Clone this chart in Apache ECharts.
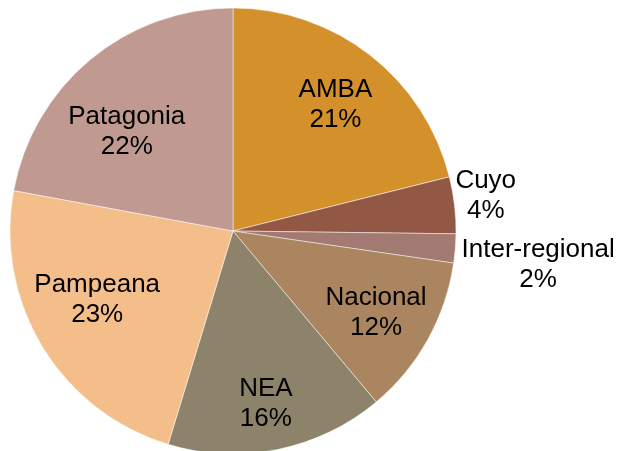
<!DOCTYPE html>
<html>
<head>
<meta charset="utf-8">
<script src="https://cdn.jsdelivr.net/npm/echarts@6/dist/echarts.min.js"></script>
<style>
  html, body { margin: 0; padding: 0; background: #fff; }
  #chart { width: 622px; height: 451px; }
</style>
</head>
<body>
<div id="chart"></div>
<script>
// regiones y participacion (%)
var regions = ['AMBA', 'Cuyo', 'Inter-regional', 'Nacional', 'NEA', 'Pampeana', 'Patagonia'];
var shares = [21.1, 4.1, 2.1, 11.6, 15.8, 23.2, 22.1];
var colors = ['#D4902B', '#935745', '#A27A72', '#AB8560', '#8C836A', '#F4BE8A', '#C09A91'];
// desplazamiento de cada etiqueta respecto de la posicion 'inside'
var labelOffsets = [[32, -36], [139, -22], [191, 25], [43, 26], [10, 61], [-38, 9], [-33, -11]];

var chart = echarts.init(document.getElementById('chart'));

var pieData = regions.map(function (name, i) {
  return {
    name: name,
    value: shares[i],
    itemStyle: { color: colors[i] },
    label: { offset: labelOffsets[i] }
  };
});

chart.setOption({
  animation: false,
  series: [
    {
      type: 'pie',
      center: [233, 231],
      radius: [0, 223],
      startAngle: 90,
      clockwise: true,
      avoidLabelOverlap: false,
      itemStyle: {
        borderColor: 'rgba(255,255,255,0.6)',
        borderWidth: 0.8
      },
      label: {
        show: true,
        position: 'inside',
        formatter: function (p) {
          return p.name + '\n' + Math.round(p.value) + '%';
        },
        fontFamily: 'Liberation Sans, Arial, sans-serif',
        fontSize: 26,
        lineHeight: 30,
        color: '#000',
        align: 'center'
      },
      labelLine: { show: false },
      emphasis: { disabled: true },
      data: pieData
    }
  ]
});
</script>
</body>
</html>
